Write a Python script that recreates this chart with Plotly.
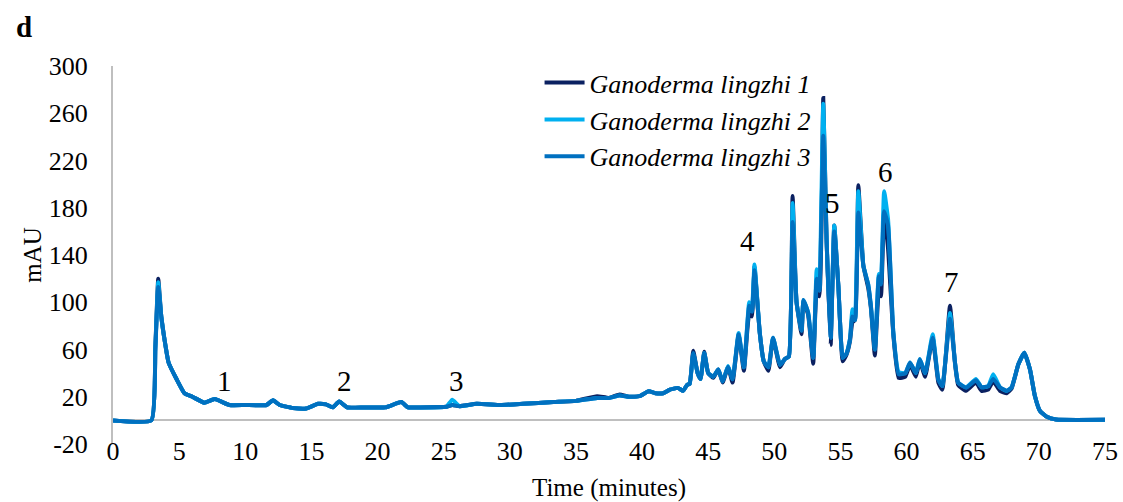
import plotly.graph_objects as go

# Retention time (minutes)
time_min = [
    0.0, 2.9, 3.2, 3.42, 3.65, 3.9, 4.2, 4.8, 5.4, 6.0, 6.9, 7.7, 8.8, 10.0, 11.6, 12.1,
    12.6, 13.6, 14.6, 15.5, 16.1, 16.6, 17.1, 17.7, 19.0, 20.6, 21.8, 22.3, 23.2, 25.2,
    25.65, 26.2, 27.5, 29.3, 31.0, 33.3, 35.0, 36.6, 37.5, 38.3, 39.0, 39.8, 40.5, 41.0,
    41.6, 42.1, 42.7, 43.1, 43.4, 43.6, 43.87, 44.2, 44.42, 44.7, 45.0, 45.38, 45.76,
    46.09, 46.5, 46.84, 47.3, 47.7, 48.1, 48.3, 48.5, 48.9, 49.2, 49.55, 49.9, 50.43,
    50.8, 51.1, 51.38, 51.68, 52.06, 52.2, 52.56, 52.94, 53.2, 53.4, 53.7, 53.95, 54.26,
    54.53, 54.84, 55.17, 55.47, 55.72, 55.9, 56.1, 56.35, 56.73, 57.1, 57.3, 57.6, 57.9,
    58.06, 58.3, 58.6, 59.0, 59.4, 59.9, 60.26, 60.7, 61.0, 61.4, 61.97, 62.4, 62.7,
    63.28, 63.66, 63.9, 64.5, 65.24, 65.67, 66.17, 66.55, 67.06, 67.57, 67.94, 68.45,
    68.9, 69.33, 69.7, 70.08, 70.6, 71.3, 75.0,
]

# Absorbance (mAU), one list per sample
lingzhi_1 = [
    0, 0, 62, 120, 88, 68, 49, 35, 23, 20, 15, 18, 13, 13, 13, 17,
    13, 10.5, 10, 14, 13.5, 11, 16, 11, 11, 11, 15.5, 11, 11, 11.5,
    13, 12, 14, 13, 14, 15.5, 16.5, 20.5, 19, 22, 20, 20.5, 24.6, 23,
    23, 26, 27.5, 25, 30, 31, 59, 40, 35, 58, 40, 36, 43,
    32, 45, 32, 72, 42, 90, 88, 130, 74, 50, 42, 69, 45,
    52, 54, 190, 100, 73, 101, 89, 48, 108, 105, 273, 153, 64,
    165, 114, 50, 56, 67, 83, 85, 199, 131, 112, 95, 55, 110,
    105, 176, 145, 72, 36, 37, 47, 37, 50, 37, 70, 32, 26,
    97, 48, 30, 25, 32, 25, 26, 33, 25, 23, 27, 47.5,
    57.3, 43, 20.6, 8, 3, 0.7, 0.5,
]
lingzhi_2 = [
    0, 0, 61, 117, 88, 68, 49, 35, 23, 20, 15, 18, 13, 13, 13, 17,
    13, 10.5, 10, 14, 13.5, 11, 16, 11, 11, 11, 15.5, 11, 11, 11.5,
    17.5, 12, 14, 13, 14, 15.5, 16.5, 19, 19, 21, 20, 20.5, 24.6, 23,
    23, 26, 27.5, 25, 30, 31, 56, 40, 35, 57, 40, 37, 43,
    33, 46, 35, 74, 45, 100, 93, 132, 74, 50, 45, 70, 47,
    52, 54, 184, 100, 76, 102, 91, 53, 128, 110, 268, 153, 70,
    165, 114, 53, 57, 69, 94, 85, 194, 131, 115, 97, 60, 124,
    118, 194, 170, 74, 41, 40, 49, 40, 52, 40, 73, 35, 29,
    91, 49, 32, 28, 35, 28, 29, 39, 28, 25, 28, 47.5,
    57.3, 43, 20.6, 8, 3, 0.7, 0.5,
]
lingzhi_3 = [
    0, 0, 60, 113, 88, 68, 49, 35, 23, 20, 15, 18, 13, 13, 13, 17,
    13, 10.5, 10, 14, 13.5, 11, 16, 11, 11, 11, 15.5, 11, 11, 11.5,
    13, 12, 14, 13, 14, 15.5, 16.5, 19, 19, 21, 20, 20.5, 24.6, 23,
    23, 26, 27.5, 25, 30, 31, 57, 40, 35, 57, 40, 37, 43,
    33, 45.5, 34.7, 73, 45, 97, 92, 127, 74, 50, 45, 70, 47,
    52, 54, 168, 100, 76, 102, 91, 53, 120, 110, 241, 153, 70,
    160, 114, 53, 57, 69, 88, 85, 176, 131, 115, 97, 60, 122,
    115, 177, 165, 74, 39, 40, 49, 40, 51.7, 40, 70, 34.7, 29,
    86, 49, 32, 27.7, 34, 28, 29, 35, 28, 25, 28, 47.5,
    57.3, 43, 20.6, 8, 3, 0.7, 0.5,
]

series_names = ["Ganoderma lingzhi 1", "Ganoderma lingzhi 2", "Ganoderma lingzhi 3"]
series_colors = ["#0b2161", "#00b0f0", "#0070c0"]

# Numbered peaks: label, time, label height (mAU)
peak_labels = ["1", "2", "3", "4", "5", "6", "7"]
peak_times = [8.4, 17.5, 26.0, 48.0, 54.4, 58.4, 63.4]
peak_heights = [33, 33, 33, 152, 184, 210, 117]

x_ticks = list(range(0, 80, 5))
y_ticks = [-20, 20, 60, 100, 140, 180, 220, 260, 300]

SERIF = "Liberation Serif"
GRID_GREY = "#bfbfbf"

fig = go.Figure()
for name, values, color in zip(series_names, [lingzhi_1, lingzhi_2, lingzhi_3], series_colors):
    fig.add_trace(go.Scatter(
        x=time_min, y=values, name=name, mode="lines",
        line=dict(color=color, width=4, shape="spline", smoothing=0.4),
    ))

for label, t, h in zip(peak_labels, peak_times, peak_heights):
    fig.add_annotation(x=t, y=h, text=label, showarrow=False,
                       font=dict(family=SERIF, size=29, color="black"))

fig.add_annotation(xref="paper", yref="paper", x=-0.1, y=1.103, text="<b>d</b>",
                   showarrow=False, xanchor="left", yanchor="middle",
                   font=dict(family=SERIF, size=29, color="black"))

fig.update_layout(
    width=1123, height=502,
    margin=dict(l=113, r=18, t=66, b=58, autoexpand=False),
    paper_bgcolor="white", plot_bgcolor="white",
    font=dict(family=SERIF, size=26, color="black"),
    showlegend=True,
    legend=dict(x=0.43, y=1.018, xanchor="left", yanchor="top",
                bgcolor="rgba(0,0,0,0)", borderwidth=0,
                font=dict(family=SERIF, size=26, style="italic"),
                itemwidth=40, tracegroupgap=0),
    xaxis=dict(range=[0, 75], tickvals=x_ticks, ticktext=[str(v) for v in x_ticks],
               tickfont=dict(family=SERIF, size=26),
               showline=False, zeroline=False, showgrid=False, ticks="",
               automargin=False, ticklabelstandoff=-11,
               title=dict(text="Time (minutes)", font=dict(family=SERIF, size=25), standoff=15)),
    yaxis=dict(range=[-20, 300], tickvals=y_ticks, ticktext=[str(v) for v in y_ticks],
               tickfont=dict(family=SERIF, size=26),
               showline=True, linecolor=GRID_GREY, linewidth=2,
               zeroline=True, zerolinecolor=GRID_GREY, zerolinewidth=2,
               showgrid=False, ticks="", ticklabelstandoff=18, automargin=False,
               title=dict(text="mAU", font=dict(family=SERIF, size=25), standoff=0)),
)

fig.write_html("out.html")
